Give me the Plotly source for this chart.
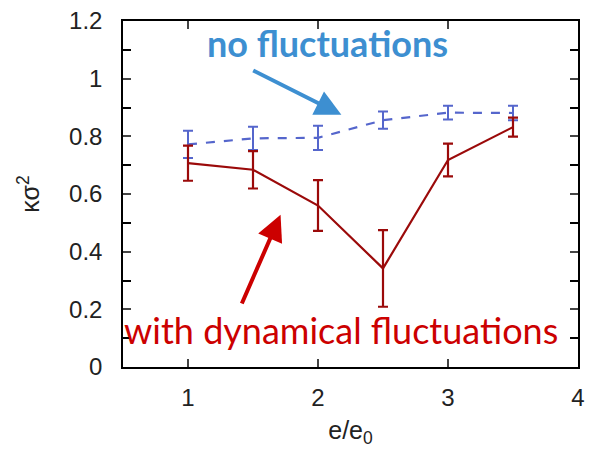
import plotly.graph_objects as go

x_vals = [1, 1.5, 2, 2.5, 3, 3.5]
no_fluct = [0.772, 0.793, 0.795, 0.856, 0.882, 0.881]
no_fluct_err = [0.047, 0.040, 0.042, 0.030, 0.024, 0.025]
dyn_fluct = [0.707, 0.684, 0.560, 0.342, 0.718, 0.832]
dyn_fluct_err = [0.061, 0.065, 0.088, 0.133, 0.057, 0.033]

fig = go.Figure()
fig.add_trace(go.Scatter(
    x=x_vals, y=no_fluct, mode="lines",
    line=dict(color="#5566cc", width=2.2, dash="dash"),
    error_y=dict(type="data", array=no_fluct_err, color="#5566cc", thickness=2, width=5),
    showlegend=False))
fig.add_trace(go.Scatter(
    x=x_vals, y=dyn_fluct, mode="lines",
    line=dict(color="#9b0a0a", width=2.2),
    error_y=dict(type="data", array=dyn_fluct_err, color="#9b0a0a", thickness=2.2, width=5),
    showlegend=False))

fig.add_annotation(x=2.18, y=0.875, ax=1.49, ay=1.031, xref="x", yref="y", axref="x", ayref="y",
                   text="", showarrow=True, arrowhead=2, arrowsize=1.3, arrowwidth=4, arrowcolor="#3d8fd1")
fig.add_annotation(x=1.712, y=0.528, ax=1.409, ay=0.215, xref="x", yref="y", axref="x", ayref="y",
                   text="", showarrow=True, arrowhead=2, arrowsize=1.3, arrowwidth=4, arrowcolor="#cc0000")
fig.add_annotation(x=2.07, y=1.125, xref="x", yref="y", text="<b>no fluctuations</b>", showarrow=False,
                   font=dict(family="Lato", size=36, color="#3d8fd1"))
fig.add_annotation(x=2.18, y=0.128, xref="x", yref="y", text="with dynamical fluctuations", showarrow=False,
                   font=dict(family="Lato", size=36, color="#cc0000"))

axis_font = dict(family="Liberation Sans", size=24, color="#222")
title_font = dict(family="Liberation Sans", size=25, color="#222")
fig.update_xaxes(range=[0.5, 4], tickvals=[1, 2, 3, 4], ticks="inside", ticklen=8, tickwidth=1.5,
                 showline=True, linecolor="black", linewidth=1.5, mirror="allticks",
                 showgrid=False, zeroline=False, tickfont=axis_font, ticklabelstandoff=8,
                 title=dict(text="e/e<sub>0</sub>", font=title_font, standoff=12))
fig.update_yaxes(range=[0, 1.2], tickvals=[0, 0.2, 0.4, 0.6, 0.8, 1, 1.2],
                 ticktext=["0", "0.2", "0.4", "0.6", "0.8", "1", "1.2"],
                 ticks="inside", ticklen=8, tickwidth=1.5,
                 minor=dict(tickvals=[0.1, 0.3, 0.5, 0.7, 0.9, 1.1], ticks="inside", ticklen=8, tickwidth=1.5, tickcolor="black"),
                 showline=True, linecolor="black", linewidth=1.5, mirror="allticks",
                 showgrid=False, zeroline=False, tickfont=axis_font, ticklabelstandoff=14,
                 title=dict(text="κσ<sup>2</sup>", font=title_font, standoff=22))
fig.update_layout(width=592, height=449, margin=dict(l=123, r=7, t=20, b=82),
                  plot_bgcolor="white", paper_bgcolor="white")
fig.write_html("out.html")
